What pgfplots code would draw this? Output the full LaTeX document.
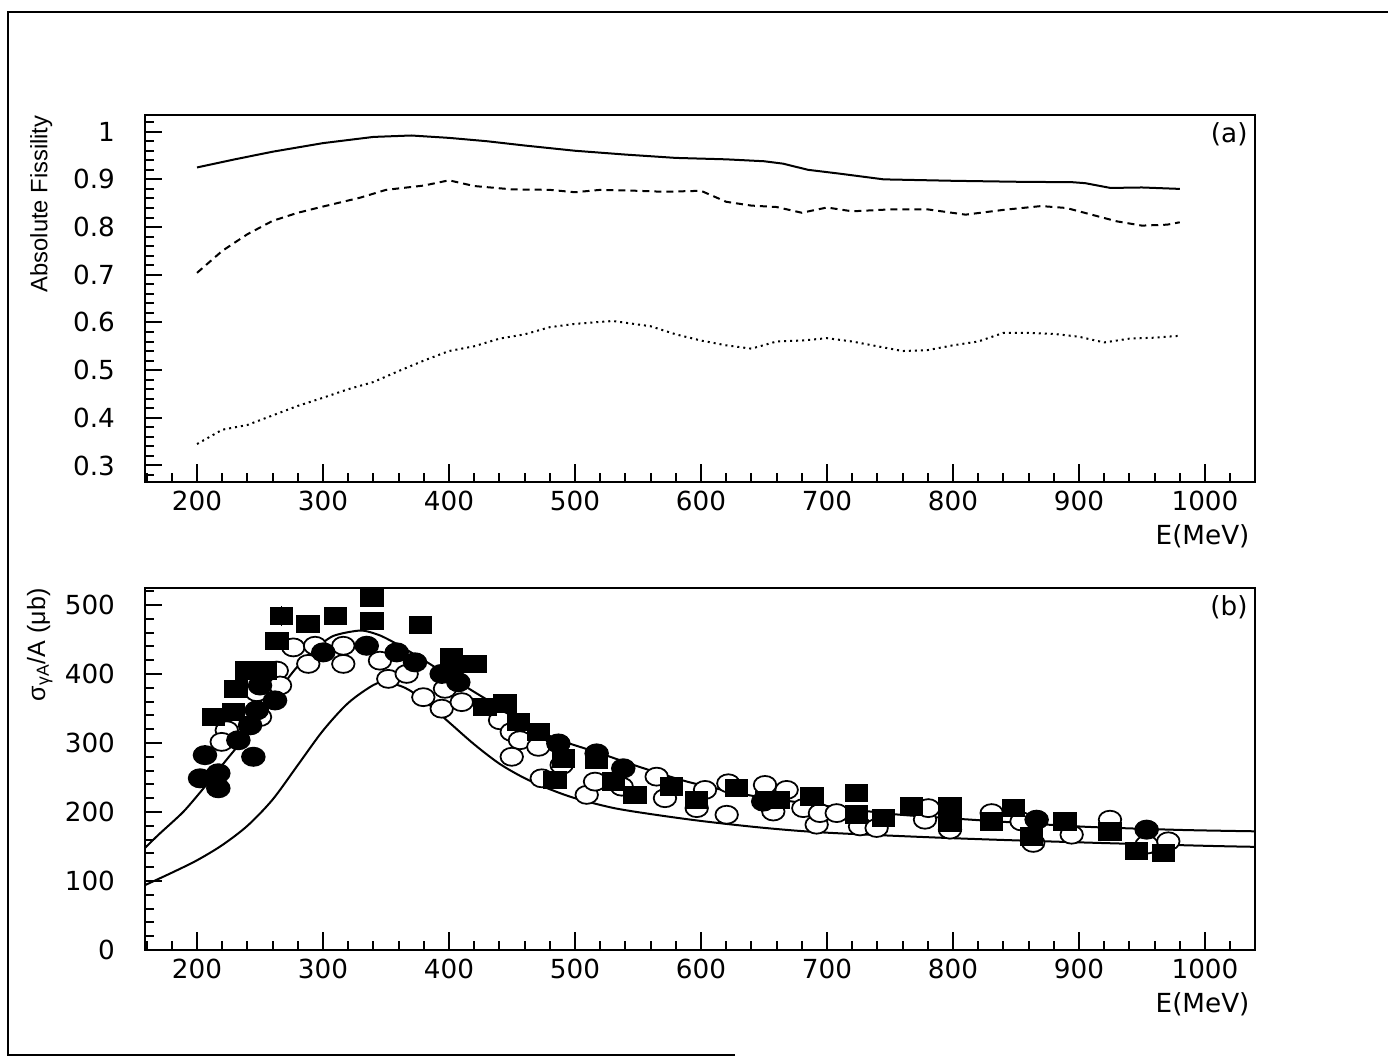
\documentclass[border=0pt]{standalone}
\usepackage{pgfplots}
\pgfplotsset{compat=1.18}
\usepackage{fontspec}
\setmainfont{Liberation Sans}
\newfontfamily\tickfont{DejaVu Sans}

% 1 px of the reference = 0.4pt
\pgfplotsset{
  panel/.style={
    scale only axis, width=444pt, anchor=south west,
    xmin=158.7, xmax=1039.7,
    xtick={200,300,...,1000}, minor xtick={160,180,...,1040},
    tick align=inside, tick pos=left,
    major tick length=7pt, minor tick length=3.5pt,
    axis line style={line width=1pt},
    tick style={line width=0.8pt, black},
    ticklabel style={font=\tickfont\fontsize{10.5}{12}\selectfont},
    /pgf/number format/assume math mode=true,
    /pgf/number format/set thousands separator={},
    yticklabel style={xshift=-8.5pt},
    xlabel={E(MeV)},
    x label style={at={(axis description cs:1,0)}, anchor=north east,
      yshift=-15pt, inner sep=2pt, font=\tickfont\fontsize{10.5}{12}\selectfont},
    y label style={anchor=south east, inner sep=0pt,
      font=\fontsize{9.5}{11}\selectfont},
    every axis plot/.append style={line width=0.8pt},
  },
  opencirc/.style={only marks, mark=*, mark size=3.6pt,
    mark options={xscale=1.25, fill=white, draw=black, line width=0.7pt}},
  fullcirc/.style={only marks, mark=*, mark size=3.6pt,
    mark options={xscale=1.25, fill=black, draw=black}},
  fullsq/.style={only marks, mark=square*, mark size=3.3pt,
    mark options={xscale=1.3, fill=black, draw=black}},
}

\begin{document}
\begin{tikzpicture}
\useasboundingbox (0,0) rectangle (555.2pt,422.8pt);

% scanned page frame
\draw[line width=0.8pt] (294pt,0.8pt) -- (3.2pt,0.8pt) -- (3.2pt,418pt) -- (555.2pt,418pt);

% ---------------- (a) ----------------
\begin{axis}[panel, at={(58pt,230pt)}, height=146.8pt,
    ymin=0.2654, ymax=1.035,
    ytick={0.3,0.4,...,1.0}, minor ytick={0.28,0.30,...,1.03},
    yticklabels={0.3,0.4,0.5,0.6,0.7,0.8,0.9,1},
    ylabel={Absolute Fissility},
    y label style={at={(axis description cs:-0.083,1)}},
]
\addplot[black, solid] coordinates {
(200,0.925) (230,0.942) (260,0.958) (300,0.976) (340,0.989) (370,0.992)
(400,0.987) (430,0.980) (460,0.971) (500,0.960) (540,0.952) (580,0.945)
(620,0.942) (650,0.938) (665,0.933) (685,0.920) (710,0.912) (745,0.900)
(800,0.897) (850,0.895) (895,0.894) (905,0.892) (925,0.882) (950,0.883)
(980,0.880)};
\addplot[black, dash pattern=on 2.8pt off 2pt] coordinates {
(200,0.704) (220,0.750) (240,0.785) (260,0.813) (280,0.830) (300,0.843)
(330,0.862) (350,0.878) (380,0.887) (400,0.898) (420,0.886) (450,0.879)
(480,0.878) (500,0.873) (520,0.878) (550,0.876) (570,0.874) (600,0.876)
(620,0.853) (640,0.845) (660,0.842) (680,0.830) (700,0.841) (720,0.833)
(750,0.837) (780,0.837) (810,0.826) (840,0.836) (870,0.844) (890,0.840)
(910,0.826) (930,0.812) (950,0.803) (970,0.805) (980,0.810)};
\addplot[black, dash pattern=on 0.8pt off 1.6pt] coordinates {
(200,0.345) (220,0.375) (240,0.385) (260,0.405) (280,0.425) (300,0.442)
(320,0.460) (340,0.475) (360,0.498) (380,0.520) (400,0.540) (420,0.550)
(440,0.566) (460,0.575) (480,0.590) (500,0.597) (530,0.603) (560,0.592)
(580,0.575) (600,0.562) (620,0.552) (640,0.545) (660,0.560) (680,0.562)
(700,0.567) (720,0.560) (740,0.550) (760,0.540) (780,0.542) (800,0.552)
(820,0.560) (840,0.578) (860,0.578) (880,0.576) (900,0.570) (920,0.558)
(940,0.566) (960,0.568) (980,0.572)};
\node[anchor=north east, inner sep=2.8pt, font=\tickfont\fontsize{10.5}{12}\selectfont]
  at (rel axis cs:1,1) {(a)};
\end{axis}

% ---------------- (b) ----------------
\begin{axis}[panel, at={(58pt,42.8pt)}, height=144.8pt,
    ymin=0, ymax=524.6,
    ytick={0,100,...,500}, minor ytick={0,20,...,520},
    ylabel={σ\textsubscript{γA}/A (μb)},
    y label style={at={(axis description cs:-0.083,1)}, font=\fontsize{10}{12}\selectfont},
]
% model curves
\addplot[black, smooth, tension=0.4] coordinates {
(158.7,148) (170,168) (189,200) (205,234) (224,277) (250,335) (274,398)
(290,431) (308,455) (330,463) (345,456) (360,442) (380,420) (400,397)
(420,374) (440,352) (460,330) (485,306) (520,285) (550,266) (591,243)
(639,224) (694,210) (752,197) (813,189) (900,179) (980,174) (1039.7,172)};
\addplot[black, smooth, tension=0.5] coordinates {
(158.7,94) (180,112) (200,130) (220,152) (240,180) (260,218) (280,268)
(300,318) (320,358) (340,384) (350,388) (365,380) (380,362) (400,330)
(420,298) (440,270) (460,249) (480,233) (500,220) (530,206) (560,197)
(600,187) (650,177) (700,170) (800,162) (900,156) (1000,151) (1039.7,149.5)};

% open circles
\addplot[opencirc] coordinates {
(276.4,438.5) (288.3,414.6) (293.7,440.9) (316.1,440.9) (316.1,414.6)
(345.2,419.3) (263.3,404.9) (247.4,373.6) (250.0,337.6) (223.6,318.4)
(219.6,301.6) (265.9,383.3) (351.8,392.9) (366.4,400.1) (379.6,366.4)
(394.2,349.7) (396.8,378.5) (410.1,359.2) (440.5,332.9) (449.8,316.0)
(456.3,304.0) (470.9,294.4) (449.8,280.0) (473.6,248.8) (489.4,268.0)
(509.3,224.8) (515.9,244.0) (537.1,236.7) (564.8,251.2) (571.4,220.0)
(603.2,232.0) (596.6,205.6) (620.4,196.0) (621.7,241.6) (650.8,239.2)
(668.0,232.0) (657.4,200.7) (681.2,205.6) (691.8,181.6) (694.4,198.4)
(707.7,198.4) (726.2,179.1) (739.4,176.8) (777.8,188.8) (780.4,205.6)
(797.6,174.4) (830.7,198.4) (854.4,186.3) (863.7,155.2) (894.2,167.1)
(924.6,188.8) (953.7,152.7) (970.9,157.5)};

% filled circles
\addplot[fullcirc] coordinates {
(202.4,248.8) (216.9,256.1) (216.9,234.4) (206.3,282.4) (244.7,280.0)
(232.8,304.0) (242.1,325.6) (247.4,347.3) (261.9,361.7) (250.0,383.3)
(300.2,431.3) (334.7,440.9) (358.5,431.3) (373.0,416.9) (394.2,400.1)
(407.4,388.0) (486.8,299.3) (517.2,284.9) (538.3,263.3) (649.4,215.1)
(866.4,188.8) (953.7,174.4)};

% filled squares
\addplot[fullsq] coordinates {
(338.7,476.9) (263.3,448.1) (239.4,404.9) (254.0,404.9) (231.0,378.5)
(228.8,344.8) (402.1,424.1) (402.1,407.3) (420.6,414.6) (428.6,352.0)
(444.4,356.9) (455.0,330.4) (470.9,316.0) (490.7,277.7) (484.1,246.4)
(517.2,275.2) (530.4,243.9) (547.6,224.8) (576.7,236.7) (596.6,217.6)
(628.3,234.4) (652.1,217.6) (661.3,217.6) (688.1,222.3) (723.6,227.2)
(723.6,196.0) (744.7,191.2) (767.2,207.9) (797.6,207.9) (797.6,184.0)
(830.7,186.3) (847.9,205.6) (862.5,164.7) (888.9,186.3) (924.6,171.9)
(945.8,143.1) (966.9,140.8)};
\addplot[fullsq, error bars/.cd, y dir=both, y explicit, error mark=none,
  error bar style={line width=0.6pt, black}] coordinates {
(267.2,484.1) +- (0,14) (287.9,472.2) +- (0,12) (310.1,484.1) +- (0,12)
(338.7,510.5) +- (0,12) (377.5,470.7) +- (0,12) (212.9,337.6) +- (0,12)};

\node[anchor=north east, inner sep=2.8pt, font=\tickfont\fontsize{10.5}{12}\selectfont]
  at (rel axis cs:1,1) {(b)};
\end{axis}
\end{tikzpicture}
\end{document}
